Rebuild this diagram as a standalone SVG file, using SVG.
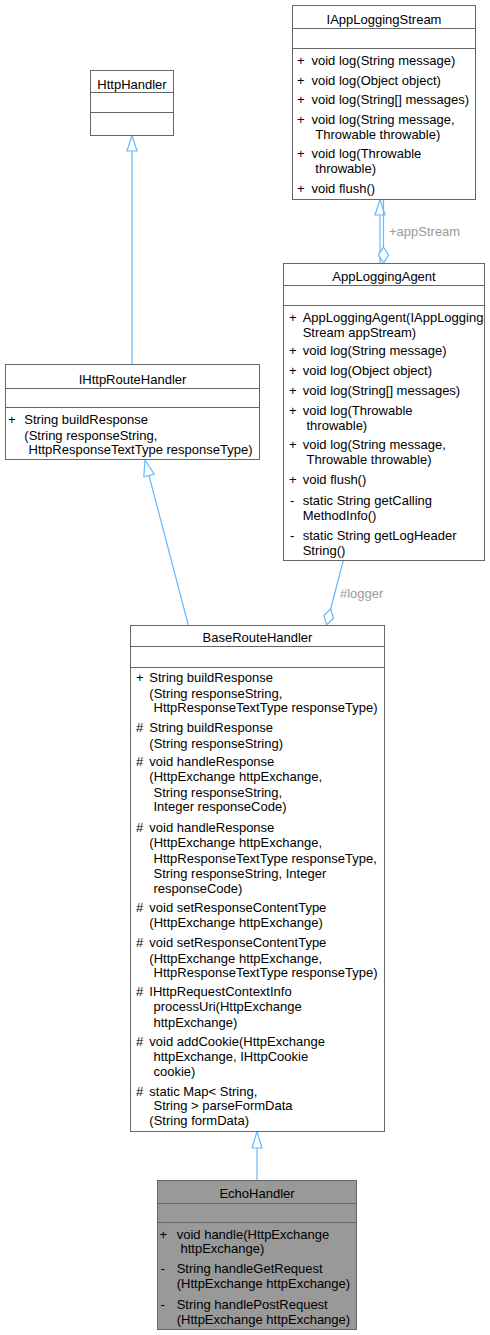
<svg xmlns="http://www.w3.org/2000/svg" width="490" height="1335" viewBox="0 0 490 1335">
<style>
  text { font-family: "Liberation Sans", Arial, Helvetica, sans-serif; font-size: 13px; fill: #000; }
  .t { text-anchor: middle; }
  .box { fill: #fff; stroke: #666; stroke-width: 1; }
  .cur { fill: #999; stroke: #666; stroke-width: 1; }
  .sep { stroke: #666; stroke-width: 1; fill: none; }
  .e { stroke: #63B8FF; stroke-width: 1.2; fill: none; }
  .h { stroke: #63B8FF; stroke-width: 1.2; fill: #fff; }
  .lbl { fill: #9A9A9A; }
</style>
<rect width="490" height="1335" fill="#fff"/>

<g id="connectors">
  <!-- IHttpRouteHandler -> HttpHandler -->
  <line class="e" x1="132" y1="364" x2="132" y2="151"/>
  <polygon class="h" points="132,135.5 137,151 127,151"/>
  <!-- BaseRouteHandler -> IHttpRouteHandler -->
  <line class="e" x1="188.3" y1="625" x2="149" y2="475.5"/>
  <polygon class="h" points="145,460 154.2,474.2 143.8,476.8"/>
  <!-- EchoHandler -> BaseRouteHandler -->
  <line class="e" x1="257" y1="1180" x2="257" y2="1148"/>
  <polygon class="h" points="257,1131.5 262,1148 252,1148"/>
  <!-- AppLoggingAgent -> IAppLoggingStream (inheritance) -->
  <line class="e" x1="380" y1="263" x2="380" y2="215"/>
  <polygon class="h" points="380,199.5 385,215 375,215"/>
  <!-- appStream usage -->
  <line class="e" x1="383.5" y1="199.5" x2="383.5" y2="247"/>
  <polygon class="h" points="383.5,247 388.5,255 383.5,263 378.5,255"/>
  <text class="lbl" x="389" y="235.5">+appStream</text>
  <!-- logger usage -->
  <line class="e" x1="343.3" y1="560.5" x2="330.6" y2="609"/>
  <polygon class="h" points="330.6,609 333.5,618 326.7,624.8 323.8,615.5"/>
  <text class="lbl" x="340" y="598">#logger</text>
</g>

<g id="IAppLoggingStream">
  <rect class="box" x="292.5" y="5.5" width="183" height="194"/>
  <line class="sep" x1="292.5" y1="28.5" x2="475.5" y2="28.5"/>
  <line class="sep" x1="292.5" y1="48.5" x2="475.5" y2="48.5"/>
  <text class="t" x="384" y="23.5">IAppLoggingStream</text>
  <text x="297" y="65">+</text><text x="311.5" y="65">void log(String message)</text>
  <text x="297" y="84.5">+</text><text x="311.5" y="84.5">void log(Object object)</text>
  <text x="297" y="104">+</text><text x="311.5" y="104">void log(String[] messages)</text>
  <text x="297" y="123.5">+</text><text x="311.5" y="123.5">void log(String message,</text>
  <text x="315.3" y="138.5">Throwable throwable)</text>
  <text x="297" y="158">+</text><text x="311.5" y="158">void log(Throwable</text>
  <text x="315.3" y="173">throwable)</text>
  <text x="297" y="192.5">+</text><text x="311.5" y="192.5">void flush()</text>
</g>

<g id="HttpHandler">
  <rect class="box" x="90.5" y="70.5" width="83" height="65"/>
  <line class="sep" x1="90.5" y1="92.5" x2="173.5" y2="92.5"/>
  <line class="sep" x1="90.5" y1="112.5" x2="173.5" y2="112.5"/>
  <text class="t" x="132" y="88.5">HttpHandler</text>
</g>

<g id="IHttpRouteHandler">
  <rect class="box" x="5.5" y="364.5" width="254" height="95"/>
  <line class="sep" x1="5.5" y1="388.5" x2="259.5" y2="388.5"/>
  <line class="sep" x1="5.5" y1="407.5" x2="259.5" y2="407.5"/>
  <text class="t" x="132.5" y="383.5">IHttpRouteHandler</text>
  <text x="8" y="424">+</text><text x="24.3" y="424">String buildResponse</text>
  <text x="24.3" y="439.5">(String responseString,</text>
  <text x="28.5" y="454">HttpResponseTextType responseType)</text>
</g>

<g id="AppLoggingAgent">
  <rect class="box" x="283.5" y="263.5" width="201" height="297"/>
  <line class="sep" x1="283.5" y1="285.5" x2="484.5" y2="285.5"/>
  <line class="sep" x1="283.5" y1="305.5" x2="484.5" y2="305.5"/>
  <text class="t" x="384" y="280.5">AppLoggingAgent</text>
  <text x="289" y="321.5">+</text><text x="302.7" y="321.5">AppLoggingAgent(IAppLogging</text>
  <text x="302.7" y="336.5">Stream appStream)</text>
  <text x="289" y="355">+</text><text x="302.7" y="355">void log(String message)</text>
  <text x="289" y="374.5">+</text><text x="302.7" y="374.5">void log(Object object)</text>
  <text x="289" y="395">+</text><text x="302.7" y="395">void log(String[] messages)</text>
  <text x="289" y="414.5">+</text><text x="302.7" y="414.5">void log(Throwable</text>
  <text x="306.5" y="429.5">throwable)</text>
  <text x="289" y="449">+</text><text x="302.7" y="449">void log(String message,</text>
  <text x="306.5" y="464">Throwable throwable)</text>
  <text x="289" y="484">+</text><text x="302.7" y="484">void flush()</text>
  <text x="290" y="505">-</text><text x="302.7" y="505">static String getCalling</text>
  <text x="302.7" y="520">MethodInfo()</text>
  <text x="290" y="539.5">-</text><text x="302.7" y="539.5">static String getLogHeader</text>
  <text x="302.7" y="554.5">String()</text>
</g>

<g id="BaseRouteHandler">
  <rect class="box" x="130.5" y="625.5" width="254" height="506"/>
  <line class="sep" x1="130.5" y1="646.5" x2="384.5" y2="646.5"/>
  <line class="sep" x1="130.5" y1="667.5" x2="384.5" y2="667.5"/>
  <text class="t" x="257.5" y="642">BaseRouteHandler</text>
  <text x="136" y="682.2">+</text><text x="149.3" y="682.2">String buildResponse</text>
  <text x="149.3" y="697.8">(String responseString,</text>
  <text x="153.5" y="712.2">HttpResponseTextType responseType)</text>
  <text x="136" y="732.2">#</text><text x="149.3" y="732.2">String buildResponse</text>
  <text x="149.3" y="747.8">(String responseString)</text>
  <text x="136" y="766.2">#</text><text x="149.3" y="766.2">void handleResponse</text>
  <text x="149.3" y="781.2">(HttpExchange httpExchange,</text>
  <text x="153.5" y="796.5">String responseString,</text>
  <text x="153.5" y="811.2">Integer responseCode)</text>
  <text x="136" y="831.8">#</text><text x="149.3" y="831.8">void handleResponse</text>
  <text x="149.3" y="847.2">(HttpExchange httpExchange,</text>
  <text x="153.5" y="862.8">HttpResponseTextType responseType,</text>
  <text x="153.5" y="877.8">String responseString, Integer</text>
  <text x="153.5" y="892.8">responseCode)</text>
  <text x="136" y="911.8">#</text><text x="149.3" y="911.8">void setResponseContentType</text>
  <text x="149.3" y="927.2">(HttpExchange httpExchange)</text>
  <text x="136" y="947.2">#</text><text x="149.3" y="947.2">void setResponseContentType</text>
  <text x="149.3" y="962.5">(HttpExchange httpExchange,</text>
  <text x="153.5" y="977.2">HttpResponseTextType responseType)</text>
  <text x="136" y="996.2">#</text><text x="149.3" y="996.2">IHttpRequestContextInfo</text>
  <text x="153.5" y="1011.2">processUri(HttpExchange</text>
  <text x="153.5" y="1026.8">httpExchange)</text>
  <text x="136" y="1045.5">#</text><text x="149.3" y="1045.5">void addCookie(HttpExchange</text>
  <text x="153.5" y="1061.2">httpExchange, IHttpCookie</text>
  <text x="153.5" y="1075.5">cookie)</text>
  <text x="136" y="1095.5">#</text><text x="149.3" y="1095.5">static Map&lt; String,</text>
  <text x="153.5" y="1109.5">String &gt; parseFormData</text>
  <text x="149.3" y="1124.5">(String formData)</text>
</g>

<g id="EchoHandler">
  <rect class="cur" x="157.5" y="1180.5" width="199" height="149"/>
  <line class="sep" x1="157.5" y1="1203.5" x2="356.5" y2="1203.5"/>
  <line class="sep" x1="157.5" y1="1222.5" x2="356.5" y2="1222.5"/>
  <text class="t" x="257" y="1198">EchoHandler</text>
  <text x="159.5" y="1238.5">+</text><text x="176.7" y="1238.5">void handle(HttpExchange</text>
  <text x="180.5" y="1252.8">httpExchange)</text>
  <text x="160.5" y="1272.8">-</text><text x="176.7" y="1272.8">String handleGetRequest</text>
  <text x="176.7" y="1287.8">(HttpExchange httpExchange)</text>
  <text x="160.5" y="1308.5">-</text><text x="176.7" y="1308.5">String handlePostRequest</text>
  <text x="176.7" y="1323.5">(HttpExchange httpExchange)</text>
</g>
</svg>
